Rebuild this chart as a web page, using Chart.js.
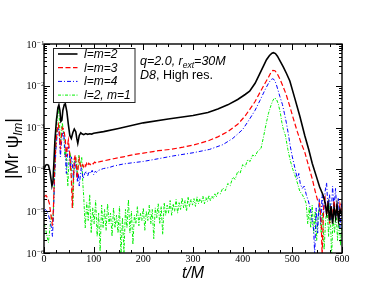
<!DOCTYPE html>
<html><head><meta charset="utf-8">
<script src="https://cdn.jsdelivr.net/npm/chart.js@4.4.1/dist/chart.umd.min.js"></script>
<style>html,body{margin:0;padding:0;background:#fff;}canvas{display:block;}</style>
</head><body>
<canvas id="c" width="385" height="298"></canvas>
<script>
// ---------- tick labels ----------
const xTickValues = [0, 100, 200, 300, 400, 500, 600];
const xTickLabels = ['0', '100', '200', '300', '400', '500', '600'];
const yTickValues = [1e-6, 1e-5, 1e-4, 1e-3, 1e-2, 1e-1];
const yTickExponents = ['-6', '-5', '-4', '-3', '-2', '-1'];
const seriesLabels = ['l=m=2', 'l=m=3', 'l=m=4', 'l=2, m=1'];

// ---------- l=m=2 ----------
const t22 = [0,3,6,9,12,14,16,18,20,22,25,28,30,32,34,36,38,41,43,46,49,52,55,58,61,64,66,68,71,74,77,80,84,88,92,96,100,120,150,200,250,300,330,350,370,390,405,414,425,434,442,448,454,459,462,466,470,476,482,488,495,505,515,525,533,540,548,555,562,566,569,572,575,578,581,584,587,590,593,596,600];
const v22 = [1.0e-4,1.25e-4,1.3e-4,1.25e-4,9e-5,6e-5,4e-5,5e-5,1.5e-4,5e-4,1.5e-3,3.0e-3,3.5e-3,2.6e-3,1.4e-3,1.5e-3,2.6e-3,3.6e-3,3.7e-3,2.4e-3,1.2e-3,6.5e-4,5.5e-4,7.5e-4,9.2e-4,8e-4,5.5e-4,4.2e-4,6.5e-4,7.5e-4,7e-4,6.8e-4,7.2e-4,6.9e-4,7.1e-4,7.0e-4,7.3e-4,8e-4,9.5e-4,1.3e-3,1.6e-3,1.95e-3,2.3e-3,2.8e-3,3.5e-3,4.7e-3,6.2e-3,7.4e-3,1.15e-2,1.9e-2,3e-2,4.2e-2,5.3e-2,6e-2,6.2e-2,5.9e-2,5.1e-2,3.8e-2,2.8e-2,2.0e-2,1.3e-2,5e-3,1.9e-3,6.5e-4,3e-4,1.4e-4,7e-5,3.8e-5,2.4e-5,1.6e-5,9e-6,1.5e-5,6e-6,1.3e-5,5e-6,1.2e-5,7e-6,1.4e-5,6e-6,1.1e-5,8e-6];

// ---------- l=m=3 ----------
const t33 = [0,4,8,11,14,17,19,21,24,27,29,31,33,35,37,40,43,45,47,49,51,53,55,57,59,61,63,65,67,69,71,73,75,78,80,82,84,86,88,90,93,96,99,102,106,110,115,120,140,160,180,200,230,253,280,300,330,350,370,390,405,414,425,435,445,452,457,461,465,470,475,480,487,495,503,510,517,525,532,540,546,551,555,558,560,563,566,569,572,575,578,581,584,587,590,593,596,600];
const v33 = [2.2e-5,2.4e-5,2.0e-5,1.5e-5,8e-6,4.5e-6,1.2e-5,8e-5,4e-4,1.0e-3,1.2e-3,7e-4,3e-4,6e-4,1.0e-3,9e-4,5e-4,2e-4,3.5e-4,5e-4,3e-4,1.5e-4,6e-5,1.2e-5,5e-5,1.8e-4,2.2e-4,1.3e-4,6e-5,1.2e-4,1.8e-4,1.3e-4,1.1e-4,1.3e-4,1.15e-4,1.35e-4,1.2e-4,1.4e-4,1.25e-4,1.4e-4,1.3e-4,1.45e-4,1.35e-4,1.5e-4,1.4e-4,1.5e-4,1.55e-4,1.6e-4,1.8e-4,2.0e-4,2.25e-4,2.45e-4,2.8e-4,3.0e-4,3.4e-4,3.8e-4,4.8e-4,6e-4,8e-4,1.2e-3,1.9e-3,2.7e-3,4.2e-3,7e-3,1.15e-2,1.6e-2,2.1e-2,2.35e-2,2.3e-2,1.9e-2,1.45e-2,1.05e-2,6.5e-3,3.2e-3,1.5e-3,8e-4,4.5e-4,2.6e-4,1.3e-4,6e-5,3e-5,1.8e-5,1.5e-5,6e-6,9e-7,1.2e-5,2e-5,8e-6,1.6e-5,5e-6,1.4e-5,7e-6,1.8e-5,9e-6,1.3e-5,6e-6,1.5e-5,1.0e-5];

// ---------- l=m=4 ----------
const t44 = [0,3,6,9,12,15,17,19,21,24,27,29,31,33,35,37,39,41,43,45,47,49,51,53,55,57,59,61,63,65,67,69,71,73,75,77,79,82,85,88,91,94,97,100,103,106,110,115,120,130,140,160,180,200,230,260,300,333,360,380,400,414,425,435,445,452,457,460,463,467,471,475,480,484,488,492,496,500,505,510,513,516,520,524,528,532,536,540,543,545,548,551,554,557,560,563,566,569,572,575,578,581,584,587,590,593,596,599,600];
const v44 = [1.0e-5,1.1e-5,1.0e-5,8e-6,6e-6,4e-6,2.5e-6,8e-6,5e-5,3e-4,8e-4,1.0e-3,6e-4,2e-4,4e-4,7e-4,8e-4,5e-4,2e-4,8e-5,2e-4,3.5e-4,2.5e-4,1e-4,2e-4,1.5e-4,6e-5,1.2e-4,1.6e-4,9e-5,5e-5,8e-5,4e-5,7e-5,1.1e-4,8e-5,6e-5,8e-5,9e-5,7e-5,9e-5,8e-5,9.5e-5,7.5e-5,9e-5,8.5e-5,9.5e-5,1.0e-4,1.05e-4,1.1e-4,1.2e-4,1.35e-4,1.45e-4,1.55e-4,1.8e-4,2.1e-4,2.5e-4,3e-4,3.9e-4,5.5e-4,9e-4,1.6e-3,2.6e-3,4.5e-3,8e-3,1.15e-2,1.4e-2,1.47e-2,1.42e-2,1.15e-2,8e-3,5.5e-3,3.6e-3,2.2e-3,1.3e-3,7e-4,3.5e-4,2e-4,1.1e-4,6e-5,8e-5,4.5e-5,3.5e-5,4e-5,2.5e-5,1.8e-5,1.2e-5,6e-6,3.5e-6,9e-7,1.2e-5,3e-6,2e-5,5e-6,2.5e-5,8e-6,3e-5,4.8e-5,1e-5,2.5e-5,6e-6,4e-5,1.2e-5,3.5e-5,8e-6,2e-5,4e-6,1.5e-5,1e-5];

// ---------- l=2, m=1 ----------
const t21 = [0,3,6,9,12,15,18,21,24,27,29,31,33,35,37,40,42,44,46,48,50,53,55,58,61,64,67,70,73,76,78,
80,83,86,89,92,95,98,101,104,107,110,113,116,119,122,125,128,131,134,137,140,143,146,149,152,155,158,161,164,167,170,173,176,179,182,185,188,191,194,197,200,203,206,209,212,215,218,221,224,227,230,233,236,239,242,245,248,251,254,257,260,263,266,269,272,275,278,281,284,287,290,293,296,299,302,305,308,311,314,317,320,323,326,329,332,335,338,341,344,347,350,
355,360,365,370,375,380,385,390,395,400,405,410,415,420,425,430,437,442,447,452,457,461,464,468,472,476,479,482,486,491,496,501,508,515,520,525,
528,531,534,537,540,543,546,549,552,555,558,561,564,567,570,573,576,579,582,585,588,591,594,597,600];
const v21 = [5e-6,4e-6,2.5e-6,1.8e-6,4e-6,8e-6,6e-6,5e-5,5e-4,2e-3,3e-3,1.5e-3,4e-4,9e-4,1.3e-3,6e-4,2e-4,3e-4,1e-4,4e-5,1.5e-4,2.5e-4,1e-4,1.2e-5,1.5e-4,2e-4,8e-5,2.2e-4,1.2e-4,2e-4,5e-5,
2.2e-5,4e-6,1.6e-5,6e-6,2.5e-5,3e-6,1.2e-5,5e-6,1.8e-5,2.5e-6,9e-6,1.1e-6,1.4e-5,4e-6,1.1e-5,3.5e-6,1.5e-5,5e-6,9e-6,2.5e-6,1.2e-5,4e-6,8e-6,3e-6,1.3e-5,9e-7,7e-6,1.0e-6,1.1e-5,4e-6,1.9e-5,3e-6,1.0e-5,1.6e-6,8e-6,5e-6,1.3e-5,4.5e-6,9e-6,6e-6,1.2e-5,3.5e-6,1.0e-5,6e-6,1.4e-5,5e-6,1.1e-5,2.2e-6,1.2e-5,7e-6,1.5e-5,5e-6,1.3e-5,2.8e-6,1.6e-5,8e-6,1.4e-5,9e-6,1.8e-5,8e-6,1.5e-5,1.0e-5,1.9e-5,9e-6,1.6e-5,1.1e-5,2.1e-5,1.2e-5,1.8e-5,1.0e-5,2.2e-5,1.3e-5,1.9e-5,1.4e-5,2.0e-5,1.3e-5,2.2e-5,1.5e-5,2.0e-5,1.6e-5,2.3e-5,1.5e-5,2.1e-5,1.7e-5,2.4e-5,1.8e-5,2.3e-5,2.0e-5,2.6e-5,2.2e-5,2.8e-5,
2.6e-5,3.6e-5,3.1e-5,4.6e-5,4.1e-5,6.5e-5,5.8e-5,9e-5,8.2e-5,1.3e-4,1.15e-4,1.7e-4,1.55e-4,2.2e-4,2.05e-4,2.7e-4,3.2e-4,6e-4,1.2e-3,2.2e-3,3.4e-3,4.5e-3,5.1e-3,4.8e-3,3.6e-3,2.2e-3,1.3e-3,9e-4,6.5e-4,3e-4,1.6e-4,1.0e-4,5.8e-5,3e-5,2.5e-5,1.9e-5,
1.5e-5,5e-6,1.2e-5,4e-6,1.4e-5,3e-6,1.0e-5,2e-6,8e-6,1.5e-5,3e-6,9e-6,1.2e-6,6e-6,1.3e-5,2.5e-6,1.6e-5,8e-7,7e-6,3e-6,1.1e-5,2e-6,9e-6,1.5e-6,5e-6];

function pts(t, v) { return t.map((x, i) => ({ x: x, y: v[i] })); }

const styles = [
  { color: '#000000', width: 1.6, dash: [] },
  { color: '#ff0000', width: 1.2, dash: [5, 2.5] },
  { color: '#0000ff', width: 1.0, dash: [4, 2, 1, 2] },
  { color: '#00ee00', width: 1.0, dash: [3, 1.5, 1, 1.5] }
];
const seriesData = [pts(t22, v22), pts(t33, v33), pts(t44, v44), pts(t21, v21)];

const datasets = seriesData.map((d, i) => ({
  label: seriesLabels[i], data: d,
  borderColor: styles[i].color, borderWidth: styles[i].width, borderDash: styles[i].dash,
  pointRadius: 0, tension: 0, fill: false
}));

function drawRich(ctx, segs, x, y, align) {
  let w = 0;
  segs.forEach(s => { ctx.font = s.font; s.w = ctx.measureText(s.text).width; w += s.w; });
  let cx = align === 'center' ? x - w / 2 : x;
  segs.forEach(s => {
    ctx.font = s.font;
    ctx.fillText(s.text, cx, y + (s.dy || 0));
    cx += s.w;
  });
}

const deco = {
  id: 'deco',
  afterDraw(chart) {
    const ctx = chart.ctx, a = chart.chartArea, xs = chart.scales.x, ys = chart.scales.y;
    ctx.save();
    ctx.strokeStyle = '#000'; ctx.fillStyle = '#000';
    // minor / major ticks (inward, all four sides)
    ctx.lineWidth = 1;
    ctx.beginPath();
    for (let v = 0; v <= 600; v += 25) {
      const major = v % 100 === 0, len = major ? 6 : 3;
      const px = Math.round(xs.getPixelForValue(v)) + 0.5;
      ctx.moveTo(px, a.bottom); ctx.lineTo(px, a.bottom - len);
      ctx.moveTo(px, a.top); ctx.lineTo(px, a.top + len);
    }
    for (let e = -6; e <= -1; e++) {
      for (let m = 1; m <= 9; m++) {
        if (e === -1 && m > 1) break;
        const v = m * Math.pow(10, e), len = m === 1 ? 6 : 3;
        const py = Math.round(ys.getPixelForValue(v)) + 0.5;
        ctx.moveTo(a.left, py); ctx.lineTo(a.left + len, py);
        ctx.moveTo(a.right, py); ctx.lineTo(a.right - len, py);
      }
    }
    ctx.stroke();
    // frame
    ctx.lineWidth = 1.4;
    ctx.strokeRect(a.left, a.top, a.right - a.left, a.bottom - a.top);

    // x tick labels
    ctx.font = '10px "Liberation Serif"';
    ctx.textAlign = 'center'; ctx.textBaseline = 'alphabetic';
    xTickValues.forEach((v, i) => ctx.fillText(xTickLabels[i], xs.getPixelForValue(v), 262));
    // y tick labels with superscript
    yTickValues.forEach((v, i) => {
      const py = ys.getPixelForValue(v);
      ctx.textAlign = 'right'; ctx.font = '10px "Liberation Serif"';
      ctx.fillText('10', 36.5, py + 3.5);
      ctx.textAlign = 'left'; ctx.font = '7px "Liberation Serif"';
      ctx.fillText(yTickExponents[i].replace('-', '\u2212'), 37, py + 0.5);
    });

    // x title
    ctx.textAlign = 'left';
    drawRich(ctx, [{ text: 't/M', font: 'italic 16px "Liberation Sans"' }], (a.left + a.right) / 2, 277.5, 'center');

    // y title (rotated)
    ctx.save();
    ctx.translate(18, (a.top + a.bottom) / 2);
    ctx.rotate(-Math.PI / 2);
    drawRich(ctx, [
      { text: '|Mr \u03C8', font: '18px "Liberation Sans"' },
      { text: 'lm', font: 'italic 12px "Liberation Sans"', dy: 4 },
      { text: '|', font: '18px "Liberation Sans"' }
    ], 0, 0, 'center');
    ctx.restore();

    // legend box
    ctx.fillStyle = '#fff';
    ctx.fillRect(53.5, 48.5, 81.5, 54);
    ctx.strokeStyle = '#222'; ctx.lineWidth = 1;
    ctx.strokeRect(53.5, 48.5, 81.5, 54);
    const rowY = [58, 71.7, 85.4, 99.1];
    seriesLabels.forEach((lab, i) => {
      const st = styles[i];
      ctx.strokeStyle = st.color; ctx.lineWidth = st.width; ctx.setLineDash(st.dash);
      ctx.beginPath(); ctx.moveTo(58, rowY[i] - 4); ctx.lineTo(77.5, rowY[i] - 4); ctx.stroke();
      ctx.setLineDash([]);
      ctx.fillStyle = '#000'; ctx.font = 'italic 12px "Liberation Sans"';
      ctx.textAlign = 'left';
      ctx.fillText(lab, 84, rowY[i]);
    });

    // annotation
    ctx.fillStyle = '#000';
    drawRich(ctx, [
      { text: 'q=2.0, r', font: 'italic 12.5px "Liberation Sans"' },
      { text: 'ext', font: 'italic 8.5px "Liberation Sans"', dy: 3 },
      { text: '=30M', font: 'italic 12.5px "Liberation Sans"' }
    ], 140, 64.5, 'left');
    drawRich(ctx, [
      { text: 'D8', font: 'italic 12.5px "Liberation Sans"' },
      { text: ', High res.', font: '12.5px "Liberation Sans"' }
    ], 140, 78.5, 'left');
    ctx.restore();
  }
};

new Chart(document.getElementById('c'), {
  type: 'line',
  data: { datasets: datasets },
  options: {
    responsive: false, animation: false, devicePixelRatio: 1,
    layout: { padding: { left: 44, top: 44, right: 43, bottom: 45 } },
    plugins: { legend: { display: false }, tooltip: { enabled: false } },
    scales: {
      x: { type: 'linear', min: 0, max: 600, display: false },
      y: { type: 'logarithmic', min: 1e-6, max: 1e-1, display: false }
    }
  },
  plugins: [deco]
});
</script>
</body></html>
